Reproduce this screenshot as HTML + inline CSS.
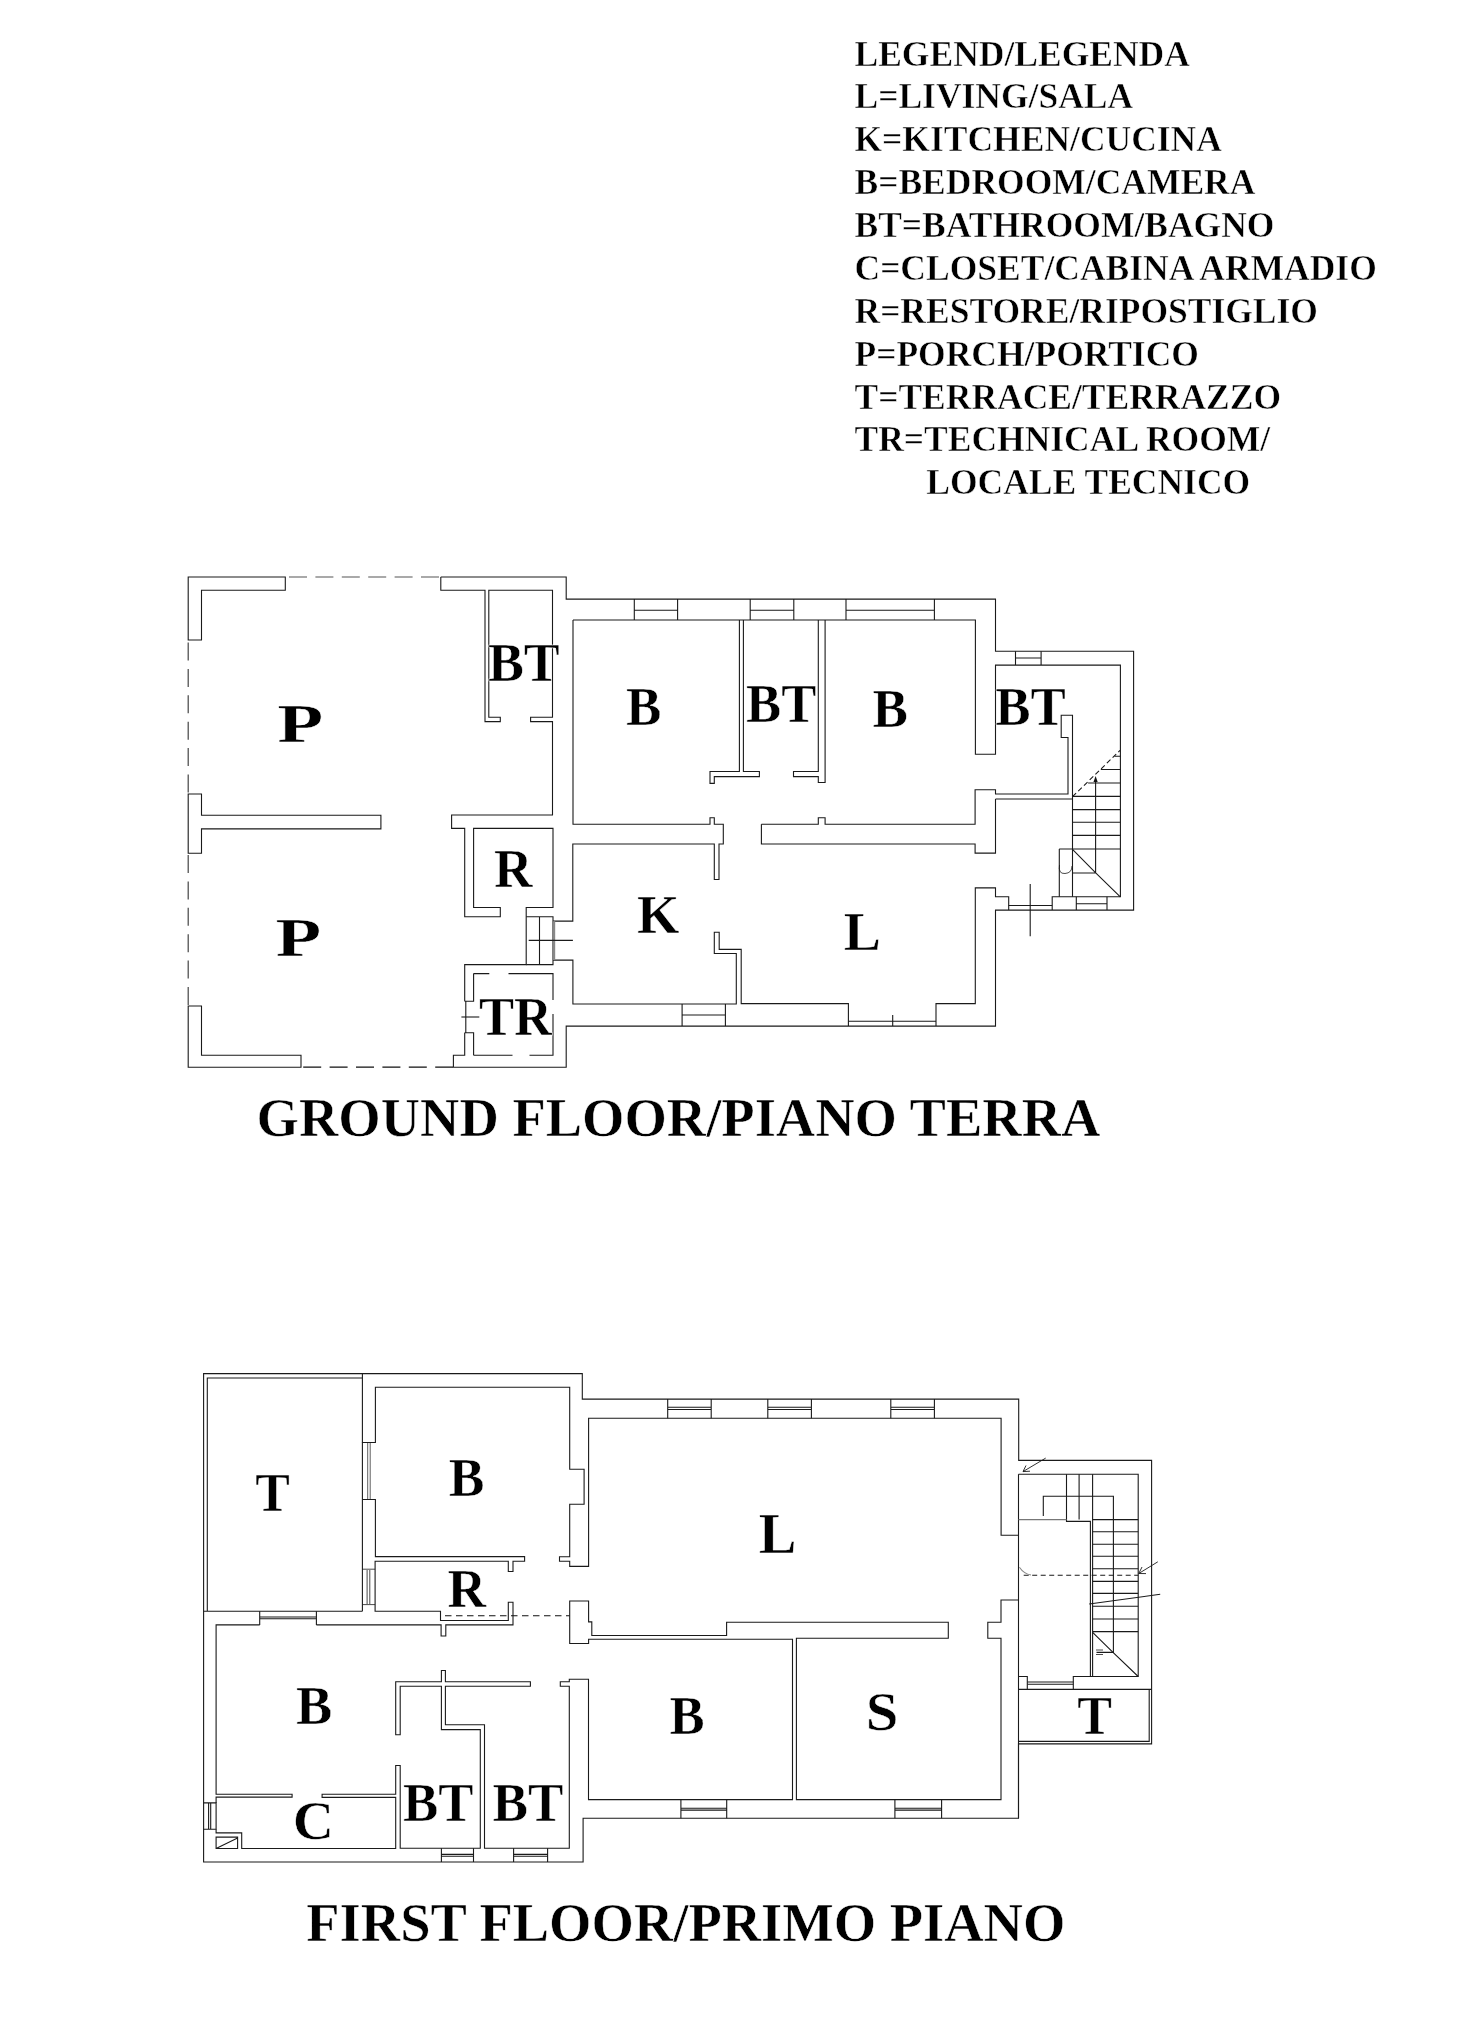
<!DOCTYPE html>
<html><head><meta charset="utf-8">
<style>
html,body{margin:0;padding:0;background:#fff;}
body{width:1470px;height:2024px;overflow:hidden;position:relative;}
svg{position:absolute;left:0;top:0;will-change:transform;}
.t{font-family:"Liberation Serif",serif;font-weight:bold;fill:#000;stroke:#fff;stroke-width:0.5;paint-order:normal;}
.w{fill:none;stroke:#1a1a1a;stroke-width:1.1;stroke-linejoin:miter;}
.d{fill:none;stroke:#555;stroke-width:1.2;stroke-dasharray:18 8.4;}
</style></head><body>
<svg width="1470" height="2024" viewBox="0 0 1470 2024">
<!-- LEGEND -->
<g class="t" font-size="35.5">
<text x="854.5" y="65.5">LEGEND/LEGENDA</text>
<text x="854.5" y="108.4">L=LIVING/SALA</text>
<text x="854.5" y="151.3">K=KITCHEN/CUCINA</text>
<text x="854.5" y="193.7">B=BEDROOM/CAMERA</text>
<text x="854.5" y="236.6">BT=BATHROOM/BAGNO</text>
<text x="854.5" y="280.3">C=CLOSET/CABINA ARMADIO</text>
<text x="854.5" y="322.8">R=RESTORE/RIPOSTIGLIO</text>
<text x="854.5" y="365.6">P=PORCH/PORTICO</text>
<text x="854.5" y="408.5">T=TERRACE/TERRAZZO</text>
<text x="854.5" y="451.3">TR=TECHNICAL ROOM/</text>
<text x="926.3" y="494.2">LOCALE TECNICO</text>
</g>
<g class="t" font-size="54.5">
<text x="256.6" y="1135.8">GROUND FLOOR/PIANO TERRA</text>
<text x="306.3" y="1941.2">FIRST FLOOR/PRIMO PIANO</text>
</g>

<!-- GROUND FLOOR -->
<g id="gf">
<g class="w">
<!-- porch walls -->
<path d="M285.3 577 H188.2 V640 H201.5 V590.3 H285.3 Z"/>
<path d="M188.2 794 H201.5 V815.3 H380.9 V828.9 H201.5 V853.2 H188.2 Z"/>
<path d="M188.2 1006 H201.5 V1055.3 H301 V1067.2 H188.2 Z"/>
<!-- BT / R / TR block -->
<path d="M440.8 577 H566.2 V599.1 H995.5 V651.3 H1133.6 V910.1 H995.5 V1026.1 H566.2 V1067.2 H453.4 V1055.2 H464.7 V1032.7"/>
<path d="M440.8 577 V590.3 H485 V721.6 H500.3 V717.3 H488.8 V590.3 H552.5 V717.3 H530.6 V721.6 H552.5 V815 H451.6 V828.4 H464.7 V916.7 H500.3 V907.5 H473.6 V828.4 H553 V907.5 H526.2 V964.6 H464.7 V1001.3"/>
<path d="M526.2 916.7 H553 V964.6 H526.2 M539.5 916.7 V964.6"/>
<path d="M464.7 1001.3 H473.6 V973.6 M464.7 1032.7 H473.6 V1055.2 M465.8 1001.3 V1032.7"/>
<path d="M461.4 1017 H479.3"/>
<!-- main inner walls -->
<path d="M573 620 H975.4 V754.3 H995.5 V665.1 H1120.4 V896.8 H1052.2 V910.1 M1008.7 910.1 V896.8 H995.5 V887.9 H975.3 V1003.6 H936 V1026.1 M848.4 1026.1 V1003.6 H741.2 V949.4 H719.2 V932.2 H714.3 V953.5 H736.3 V1004 H572.9 V960.1 H553 M553 921.1 H572.8 V844 H714.3 V879.5 H719 V844 H723.3 V824.2 H714.3 V817.7 H710 V824.2 H573 V620"/>
<path d="M1008.7 905.5 H1052.2 M848.4 1021.2 H936 M892.7 1015 V1026.1"/>
<path d="M739.4 620 V771.5 H710 V783.4 H714.3 V776.6 H759.4 V771.5 H743.4 V620"/>
<path d="M818.3 620 V771.5 H793.5 V776.6 H818.3 V782.5 H825.1 V620"/>
<path d="M761.4 824.2 H818.3 V817.7 H825.1 V824.2 H975.1 V789.8 H995.5 V794 H1068 V737.5 H1061.2 V715.3 H1072.5 V896.8 M995.5 799 H1072.5 M995.5 799 V853.1 H975.1 V844 H761.4 V824.2"/>
<!-- windows -->
<path d="M634.3 599.1 V620 M677.6 599.1 V620 M634.3 610.2 H677.6"/>
<path d="M750.2 599.1 V620 M793.8 599.1 V620 M750.2 610.2 H793.8"/>
<path d="M846 599.1 V620 M934.4 599.1 V620 M846 610.2 H934.4"/>
<path d="M1015.5 651.3 V665.1 M1041.1 651.3 V665.1 M1015.5 658 H1041.1"/>
<path d="M682.1 1004 V1026.1 M725.4 1004 V1026.1 M682.1 1015 H725.4"/>
<path d="M1076.3 896.8 V910.1 M1107 896.8 V910.1 M1076.3 903.7 H1107"/>
<path d="M554.1 921.2 V960.1" stroke="#888" stroke-width="2.2"/>
<path d="M528.7 940.4 H572.9 M1030.2 883.9 V936.3"/>
<!-- stairs -->
<path d="M1114.5 756.2 H1120.4 M1100.8 769.5 H1120.4 M1088.1 783 H1120.4 M1072.5 796.4 H1120.4 M1072.5 809.6 H1120.4 M1072.5 822.3 H1120.4 M1072.5 835.4 H1120.4 M1059.2 849 H1120.4"/>
<path d="M1095.6 780 V873 H1072.5 M1072.5 849.3 L1095.7 872.9 L1120.3 896.8 M1059.3 849 V896.8"/>
<path d="M1072.5 796.7 L1120 750.4" stroke-dasharray="5 3"/>
<path d="M1059.5 865 Q1058 874 1065 873.5 Q1072 873 1072 866" stroke-width="0.8"/>
</g>
<path d="M1095.6 776 L1093.5 782 H1097.7 Z" fill="#111"/>
<!-- dashed porch -->
<path class="d" d="M289 577 H440" />
<path class="d" d="M188.2 642.5 V794" style="stroke:#444"/>
<path class="d" d="M188.2 855 V1006" style="stroke:#444"/>
<path class="d" d="M303.2 1067.2 H453" style="stroke:#111;stroke-width:1.3"/>
<!-- TR inner dashed -->
<path class="w" d="M473.6 973.6 H489.3 M508.5 973.6 H553 V1000 M553 1014 V1055.2 H529.5 M512.5 1055.2 H473.6"/>
</g>


<!-- FIRST FLOOR -->
<g id="ff">
<g class="w">
<path d="M203.6 1373.6 H582.3 V1399.1 H1018.7 V1460.4 H1151.6 V1743.9 H1018.5 V1818.3 H583.1 V1862 H203.6 Z"/>
<path d="M207.3 1611 V1378 H362.2 M203.6 1611.2 H362.4"/>
<path d="M362.4 1373.6 V1442.5 H375.4 V1387.2 H569.7 V1469.2 H584.1 V1504.2 H569.7 V1556.8 H559.5 V1561.2 H569.7 V1566.4 H588.6 V1418.3 H1001.1 V1535.2 H1018.5"/>
<path d="M362.4 1499.5 H375.4 V1556.6 H524.6 V1561.2 H513 V1571.5 H508.3 V1561.2 H375.1 V1611.3 H440.5 V1620.5 H508.3 V1602.3 H513 V1624.9 H445.8 V1636 H441.1 V1624.9 H316.4 M259.7 1624.9 H216.1 V1794.3 H292.1 V1797.1 H216.1 V1802.9 M216.1 1829.3 V1832.9 H241.7 V1848.5 H395.7 V1797.4 H322.1 V1794.2 H395.7 V1765.5 H400.2 V1848.3 H480.3 V1729.6 H441.4 V1686.2 H400.2 V1734.8 H395.7 V1681.7 H441.4 V1670.5 H445.4 V1681.7 H530.4 V1686.2 H445.4 V1724.7 H484.5 V1848.3 H569.3 V1686.2 H560.3 V1681.7 H569.3 V1679.2 H588.5 V1799.6 H792.5 V1639.2 H588.6 V1643.5 H569.7 V1601 H588.6 V1621.9 H591.8 V1635.5 H726.6 V1622.2 H948.3 V1638.3 H796.4 V1799.6 H1001 V1638.2 H987.8 V1622.3 H1001 V1600 H1018.5"/>
<path d="M362.4 1499.5 V1611.3 M362.4 1442.5 V1499.5"/>
<path d="M367.7 1443 V1499 M370.2 1443 V1499" stroke-width="0.7"/>
<path d="M375.1 1569.2 H362.4 M375.1 1604.6 H362.4 M367.1 1570 V1604 M369.8 1570 V1604" stroke-width="0.8"/>
<!-- windows top -->
<path d="M667.7 1399.1 V1418.3 M711.2 1399.1 V1418.3 M667.7 1407.3 H711.2 M667.7 1409.5 H711.2"/>
<path d="M767.8 1399.1 V1418.3 M811.4 1399.1 V1418.3 M767.8 1407.3 H811.4 M767.8 1409.5 H811.4"/>
<path d="M890.8 1399.1 V1418.3 M934.4 1399.1 V1418.3 M890.8 1407.3 H934.4 M890.8 1409.5 H934.4"/>
<!-- window lower-left B -->
<path d="M259.7 1611.2 V1624.9 M316.4 1611.2 V1624.9 M259.7 1617 H316.4 M259.7 1618.8 H316.4"/>
<!-- windows bottom -->
<path d="M441.4 1848.3 V1862 M473.5 1848.3 V1862 M441.4 1854.4 H473.5 M441.4 1856.2 H473.5"/>
<path d="M513.6 1848.3 V1862 M547.6 1848.3 V1862 M513.6 1854.4 H547.6 M513.6 1856.2 H547.6"/>
<path d="M680.9 1799.6 V1818.3 M726.7 1799.6 V1818.3 M680.9 1808.3 H726.7 M680.9 1810.1 H726.7"/>
<path d="M894.9 1799.6 V1818.3 M941.6 1799.6 V1818.3 M894.9 1808.3 H941.6 M894.9 1810.1 H941.6"/>
<!-- closet window + box -->
<path d="M203.6 1802.9 H216.1 V1829.3 H203.6 M208.6 1803 V1829 M210.7 1803 V1829" />
<path d="M216.1 1837.1 H237.6 V1848.5 H216.1 Z M216.1 1848.5 L237.6 1838"/>
<!-- stairs block -->
<path d="M1018.5 1474.3 V1818.3 M1018.5 1474.3 H1138.2 V1676.5 H1073.3 V1689.4 M1027.3 1689.4 V1676.5 H1018.5 M1018.5 1689.4 H1151.6 M1018.5 1741.4 H1149.2 V1689.4"/>
<path d="M1027.3 1682 H1073.3 M1027.3 1684.3 H1073.3"/>
<path d="M1066.5 1474.3 V1521.4 H1090.4 V1676.5 M1079.1 1474.3 V1519.6 M1092.6 1474.3 V1676.5 M1043.3 1516 V1496.3 H1113.4 V1652.4 H1096.5"/>
<path d="M1018.5 1519.6 H1066.5" stroke="#777"/>
<path d="M1092.6 1519.6 H1138.2 M1092.6 1531.8 H1138.2 M1092.6 1544.3 H1138.2 M1092.6 1556.3 H1138.2 M1092.6 1568.8 H1138.2 M1092.6 1581.4 H1138.2 M1092.6 1593.4 H1138.2 M1092.6 1606.2 H1138.2 M1092.6 1619 H1138.2 M1092.6 1631.6 H1138.2"/>
<path d="M1092.6 1632.4 L1113 1652.4 L1138.2 1676.5"/>
<path d="M1089.2 1604 L1160.2 1594.3"/>
<path d="M1023.7 1575.3 H1138.2" stroke-dasharray="5 3.5"/>
<path d="M1019.4 1567.3 Q1024 1574 1031 1575" stroke="#888"/>
<path d="M1045.7 1458.1 L1023 1471.6 M1023 1471.6 L1030 1471.2 M1023 1471.6 L1026 1465.5" stroke-width="0.9"/>
<path d="M1157.8 1561.8 L1138.8 1573.5 M1138.8 1573.5 L1146 1573.6 M1138.8 1573.5 L1142 1567" stroke-width="0.9"/>
<path d="M1096 1650 H1103 M1096 1654.5 H1103" stroke-width="0.8"/>
</g>
<path d="M445 1615.7 H569.7" fill="none" stroke="#111" stroke-width="1.1" stroke-dasharray="6.5 4.5"/>
</g>

<g class="t">
<text x="277.7" y="742.5" font-size="55.69" transform="matrix(1.3532 0 0 1 -98.46 0)">P</text>
<text x="275.9" y="955.6" font-size="54.92" transform="matrix(1.3656 0 0 1 -101.28 0)">P</text>
<text x="487.9" y="681.0" font-size="55.38" transform="matrix(0.9723 0 0 1 13.54 0)">BT</text>
<text x="626.0" y="724.7" font-size="55.54" transform="matrix(0.9554 0 0 1 27.95 0)">B</text>
<text x="746.0" y="722.1" font-size="54.92" transform="matrix(0.9608 0 0 1 29.26 0)">BT</text>
<text x="872.4" y="727.3" font-size="54.77" transform="matrix(0.9689 0 0 1 27.20 0)">B</text>
<text x="995.1" y="724.6" font-size="54.46" transform="matrix(0.9718 0 0 1 28.11 0)">BT</text>
<text x="637.0" y="932.6" font-size="55.69" transform="matrix(0.9792 0 0 1 13.25 0)">K</text>
<text x="843.7" y="949.8" font-size="55.69">L</text>
<text x="493.9" y="886.8" font-size="55.23" transform="matrix(0.9665 0 0 1 16.58 0)">R</text>
<text x="478.9" y="1035.0" font-size="55.38" transform="matrix(0.9500 0 0 1 24.02 0)">TR</text>
<text x="255.2" y="1511.4" font-size="55.08" transform="matrix(0.9424 0 0 1 14.78 0)">T</text>
<text x="448.7" y="1496.0" font-size="54.92" transform="matrix(0.9750 0 0 1 11.23 0)">B</text>
<text x="758.7" y="1552.5" font-size="56.50">L</text>
<text x="447.4" y="1607.2" font-size="54.92" transform="matrix(0.9745 0 0 1 11.42 0)">R</text>
<text x="295.9" y="1724.0" font-size="55.54" transform="matrix(0.9787 0 0 1 6.34 0)">B</text>
<text x="669.6" y="1733.7" font-size="55.23" transform="matrix(0.9520 0 0 1 32.17 0)">B</text>
<text x="866.0" y="1729.6" font-size="55.97" transform="matrix(1.0487 0 0 1 -42.31 0)">S</text>
<text x="1077.3" y="1733.7" font-size="54.92" transform="matrix(0.9480 0 0 1 56.09 0)">T</text>
<text x="292.9" y="1838.7" font-size="55.67" transform="matrix(1.0269 0 0 1 -7.95 0)">C</text>
<text x="402.9" y="1820.9" font-size="54.62" transform="matrix(0.9689 0 0 1 12.55 0)">BT</text>
<text x="492.6" y="1821.3" font-size="54.77" transform="matrix(0.9719 0 0 1 13.87 0)">BT</text>
</g>
</svg>
</body></html>
